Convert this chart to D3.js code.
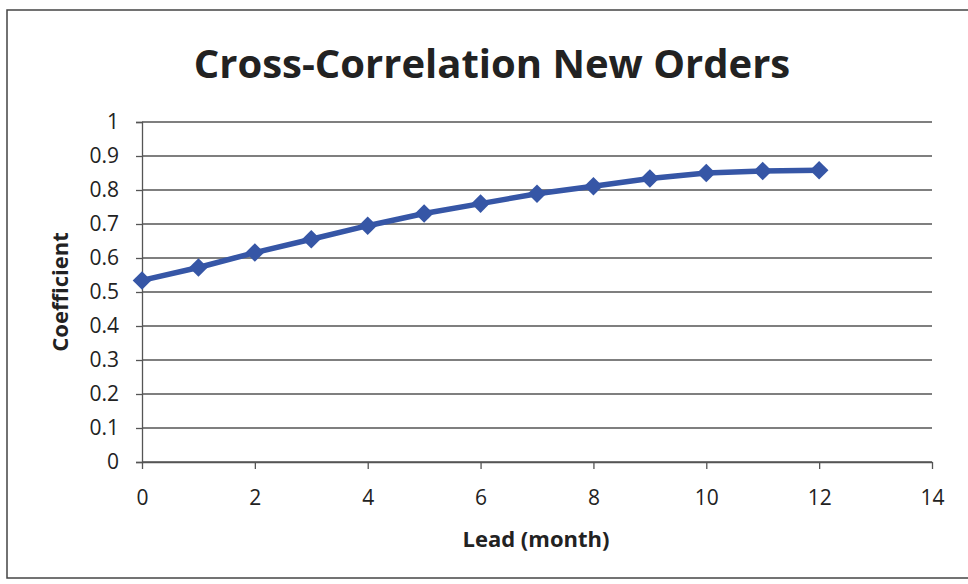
<!DOCTYPE html>
<html>
<head>
<meta charset="utf-8">
<script src="https://cdn.jsdelivr.net/npm/d3@7"></script>
<style>
  body { margin: 0; background: #fff; }
  svg { display: block; font-family: "Open Sans", sans-serif; }
</style>
</head>
<body>
<svg width="968" height="584"></svg>
<script>
// lead in months and the cross-correlation coefficient for each
const leads = [0, 1, 2, 3, 4, 5, 6, 7, 8, 9, 10, 11, 12];
const coefficients = [0.534, 0.572, 0.616, 0.655, 0.695, 0.731, 0.760, 0.789, 0.811, 0.834, 0.850, 0.856, 0.858];
const xTicks = [0, 2, 4, 6, 8, 10, 12, 14];
const yTicks = [0, 0.1, 0.2, 0.3, 0.4, 0.5, 0.6, 0.7, 0.8, 0.9, 1];

const svg = d3.select("svg");

// chart frame
svg.append("rect")
  .attr("x", 7)
  .attr("y", 10)
  .attr("width", 975)
  .attr("height", 568)
  .attr("fill", "#fff")
  .attr("stroke", "#444")
  .attr("stroke-width", 1.5);

const scaleX = d3.scaleLinear().domain([0, 14]).range([142, 932]);
const scaleY = d3.scaleLinear().domain([0, 1]).range([462, 122]);

// horizontal gridlines
svg.append("g")
  .attr("class", "grid")
  .selectAll("line")
  .data(yTicks)
  .join("line")
  .attr("x1", 142)
  .attr("x2", 932)
  .attr("y1", d => scaleY(d))
  .attr("y2", d => scaleY(d))
  .attr("stroke", "#555")
  .attr("stroke-width", 1.3);

const axisY = d3.axisLeft(scaleY)
  .tickValues(yTicks)
  .tickFormat(d => d === 0 || d === 1 ? d3.format("d")(d) : d3.format(".1f")(d))
  .tickSize(6)
  .tickPadding(17);

const gy = svg.append("g")
  .attr("transform", "translate(142,0)")
  .call(axisY)
  .attr("font-family", "Open Sans")
  .attr("font-size", 21);
gy.select(".domain").attr("stroke", "#555").attr("stroke-width", 1.3);
gy.selectAll(".tick line").attr("stroke", "#555").attr("stroke-width", 1.3);
gy.selectAll(".tick text").attr("fill", "#222");

const axisX = d3.axisBottom(scaleX)
  .tickValues(xTicks)
  .tickSize(7)
  .tickSizeOuter(0)
  .tickPadding(21);

const gx = svg.append("g")
  .attr("transform", "translate(0,462)")
  .call(axisX)
  .attr("font-family", "Open Sans")
  .attr("font-size", 21);
gx.select(".domain").attr("stroke", "#555").attr("stroke-width", 1.3);
gx.selectAll(".tick line").attr("stroke", "#555").attr("stroke-width", 1.3);
gx.selectAll(".tick text").attr("fill", "#222");

// data line
const line = d3.line()
  .x((d, i) => scaleX(leads[i]))
  .y(d => scaleY(d));

svg.append("path")
  .datum(coefficients)
  .attr("d", line)
  .attr("fill", "none")
  .attr("stroke", "#3656a6")
  .attr("stroke-width", 5.5)
  .attr("stroke-linejoin", "round");

// diamond markers
svg.selectAll("path.marker")
  .data(coefficients)
  .join("path")
  .attr("class", "marker")
  .attr("d", d3.symbol(d3.symbolDiamond2, 220))
  .attr("transform", (d, i) => `translate(${scaleX(leads[i])},${scaleY(d)})`)
  .attr("fill", "#3656a6");

// titles
svg.append("text")
  .attr("x", 492)
  .attr("y", 78)
  .attr("text-anchor", "middle")
  .attr("font-size", 40)
  .attr("font-weight", "bold")
  .attr("fill", "#222")
  .text("Cross-Correlation New Orders");

svg.append("text")
  .attr("x", 536)
  .attr("y", 547)
  .attr("text-anchor", "middle")
  .attr("font-size", 22)
  .attr("font-weight", "bold")
  .attr("fill", "#222")
  .text("Lead (month)");

svg.append("text")
  .attr("transform", "translate(68,292) rotate(-90)")
  .attr("text-anchor", "middle")
  .attr("font-size", 22)
  .attr("font-weight", "bold")
  .attr("fill", "#222")
  .text("Coefficient");
</script>
</body>
</html>
